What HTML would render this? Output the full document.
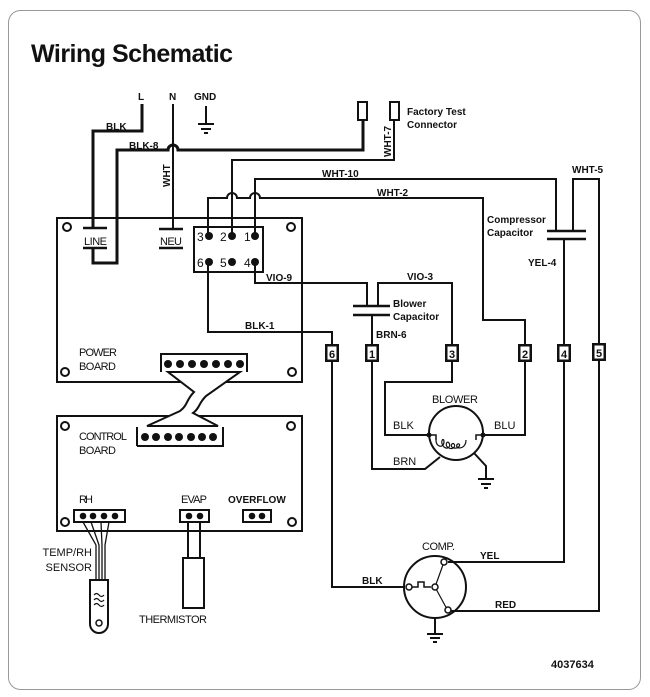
<!DOCTYPE html>
<html><head><meta charset="utf-8"><style>
html,body{margin:0;padding:0;background:#fff;}
svg{display:block;}
text{font-family:"Liberation Sans",sans-serif;fill:#111;}
.b{font-weight:bold;font-size:10px;}
.n{font-size:11px;}
</style></head><body>
<svg width="650" height="697" viewBox="0 0 650 697" xmlns="http://www.w3.org/2000/svg">
<rect x="8.5" y="10.5" width="632" height="679" rx="12" fill="#fff" stroke="#999" stroke-width="1"/>
<text x="31" y="62" style="font-size:25px;font-weight:bold;letter-spacing:-0.5px">Wiring Schematic</text>
<g fill="none" stroke="#111" stroke-width="2">
<rect x="57" y="218" width="245" height="164"/>
<circle cx="67" cy="227" r="4"/><circle cx="291" cy="227" r="4"/>
<circle cx="65" cy="372" r="4"/><circle cx="292" cy="372" r="4"/>
<rect x="57" y="416" width="245" height="115"/>
<circle cx="65" cy="426" r="4"/><circle cx="291" cy="426" r="4"/>
<circle cx="65" cy="522" r="4"/><circle cx="292" cy="522" r="4"/>
<path d="M161 372 V354 H247 V372"/>
<path d="M137 446 V427 M223 427 V446 H137"/>
<path d="M168 372 H240 L206 396 C198 404 200 408 193 413 L218 426 H147 L180 411 C188 405 186 400 194 392 Z" fill="#fff"/>
<rect x="74" y="510" width="51" height="12"/>
<rect x="180" y="510" width="29" height="12"/>
<rect x="243" y="510" width="28" height="12"/>
<path d="M83 522 L96 545 V580 M91 522 L99 545 V580 M101 522 L102 545 V580 M109 522 L105 545 V580" stroke-width="1.3"/>
<path d="M90 580 H108 V624 A9 9 0 0 1 90 624 Z" fill="#fff"/>
<circle cx="99" cy="623" r="3" stroke-width="1.5"/>
<path d="M94 595 q2.5 -3 5 0 t5 0 M94 600 q2.5 -3 5 0 t5 0 M94 605 q2.5 -3 5 0 t5 0" stroke-width="1.2"/>
<path d="M188 522 V558 M200 522 V558"/>
<rect x="183" y="558" width="21" height="50" fill="#fff"/>
<path d="M83 228 H107 M83 248 H107 M159 229 H183 M159 248 H183" stroke-width="2.5"/>
<path d="M142 104 V131 H93 V228 M93 248 V263 H117 V150 H168 A5 5 0 0 1 178 150 H363 V120" stroke-width="3"/>
<path d="M173 104 V229" />
<path d="M206 106 V124 M198 124 H214 M201 129 H211 M204 133 H208"/>
<rect x="358" y="102" width="9" height="18"/>
<rect x="390" y="102" width="9" height="18"/>
<path d="M394 120 V160 H232 V236"/>
<rect x="194" y="227" width="69" height="45"/>
<path d="M255 236 V179 H556 V231"/>
<path d="M208 236 V198 H227 A5 5 0 0 1 237 198 H250 A5 5 0 0 1 260 198 H483 V320 H525 V345"/>
<path d="M255 262 V283 H367 V306"/>
<path d="M378 306 V283 H452 V345"/>
<path d="M353 306 H390 M353 315 H390" stroke-width="2.5"/>
<path d="M372 315 V345"/>
<path d="M208 262 V332 H332 V345"/>
<path d="M547 231 H586 M547 239 H586" stroke-width="2.5"/>
<path d="M573 231 V179 H599 V345"/>
<path d="M564 239 V345"/>
<path d="M332 361 V587 H404"/>
<path d="M372 361 V469 H425 L440 457"/>
<path d="M452 361 V382 H385 V435 H429" />
<path d="M525 361 V435 H483"/>
<path d="M564 361 V562 H448"/>
<path d="M599 361 V611 H451"/>
<circle cx="456" cy="433" r="27"/>
<path d="M429 435 H436 V440 M483 435 H476 V440" stroke-width="1.5"/>
<path d="M436 440 c0 8 8 8 8 2 c0 -6 -5 0 0 5 c4 3 7 -1 5 -4 c-2 -3 -5 3 0 5 c4 2 7 -2 5 -4 c-2 -2 -5 3 0 4 c4 1 7 -3 5 -4 c-2 -1 -4 3 0 4 c4 0 7 -3 7 -8" stroke-width="1.2"/>
<path d="M474 453 L486 466 V478 M478 479 H494 M481 484 H491 M484 488 H488"/>
<circle cx="435" cy="587" r="31"/>
<path d="M409 587 H418 V582 H424 V587 H431" stroke-width="1.5"/>
<path d="M435 587 L444 562 M435 587 L448 611" stroke-width="1.2"/>
<path d="M435 619 V634 M427 634 H443 M430 638 H440 M433 642 H437"/>
</g>
<g fill="#fff" stroke="#111" stroke-width="1.5">
<circle cx="409" cy="587" r="3"/><circle cx="435" cy="587" r="3"/><circle cx="444" cy="562" r="3"/><circle cx="448" cy="610" r="3"/>
</g>
<g fill="#111">
<circle cx="429" cy="435" r="2.5"/><circle cx="483" cy="435" r="2.5"/>
<circle cx="209" cy="236" r="4"/><circle cx="232" cy="236" r="4"/><circle cx="255" cy="236" r="4"/>
<circle cx="209" cy="262" r="4"/><circle cx="232" cy="262" r="4"/><circle cx="255" cy="262" r="4"/>
<circle cx="168" cy="364" r="4"/><circle cx="180" cy="364" r="4"/><circle cx="192" cy="364" r="4"/><circle cx="204" cy="364" r="4"/><circle cx="216" cy="364" r="4"/><circle cx="228" cy="364" r="4"/><circle cx="240" cy="364" r="4"/>
<circle cx="145" cy="437" r="4"/><circle cx="156" cy="437" r="4"/><circle cx="168" cy="437" r="4"/><circle cx="179" cy="437" r="4"/><circle cx="191" cy="437" r="4"/><circle cx="202" cy="437" r="4"/><circle cx="213" cy="437" r="4"/>
<circle cx="83" cy="516" r="3.3"/><circle cx="93" cy="516" r="3.3"/><circle cx="104" cy="516" r="3.3"/><circle cx="115" cy="516" r="3.3"/>
<circle cx="189" cy="516" r="3.3"/><circle cx="200" cy="516" r="3.3"/>
<circle cx="252" cy="516" r="3.3"/><circle cx="262" cy="516" r="3.3"/>
<rect x="325" y="344" width="14" height="18"/><rect x="365" y="344" width="14" height="18"/><rect x="445" y="344" width="14" height="18"/><rect x="518" y="344" width="14" height="18"/><rect x="557" y="344" width="14" height="18"/><rect x="592" y="343" width="14" height="18"/>
</g>
<g fill="#fff">
<rect x="327.5" y="346.5" width="9" height="13"/><rect x="367.5" y="346.5" width="9" height="13"/><rect x="447.5" y="346.5" width="9" height="13"/><rect x="520.5" y="346.5" width="9" height="13"/><rect x="559.5" y="346.5" width="9" height="13"/><rect x="594.5" y="345.5" width="9" height="13"/>
</g>
<g>
<text x="329" y="358" class="b" style="font-size:11px">6</text>
<text x="369" y="358" class="b" style="font-size:11px">1</text>
<text x="449" y="358" class="b" style="font-size:11px">3</text>
<text x="522" y="358" class="b" style="font-size:11px">2</text>
<text x="561" y="358" class="b" style="font-size:11px">4</text>
<text x="596" y="357" class="b" style="font-size:11px">5</text>
</g>
<text x="197" y="241" style="font-size:12px">3</text>
<text x="220" y="241" style="font-size:12px">2</text>
<text x="244" y="241" style="font-size:12px">1</text>
<text x="197" y="267" style="font-size:12px">6</text>
<text x="220" y="267" style="font-size:12px">5</text>
<text x="244" y="267" style="font-size:12px">4</text>
<text x="138" y="100" class="b">L</text>
<text x="169" y="100" class="b">N</text>
<text x="194" y="100" class="b">GND</text>
<text x="106" y="130" class="b">BLK</text>
<text x="129" y="149" class="b">BLK-8</text>
<text class="b" transform="translate(170,187) rotate(-90)">WHT</text>
<text class="b" transform="translate(391,157) rotate(-90)">WHT-7</text>
<text x="407" y="115" class="b">Factory Test</text>
<text x="407" y="128" class="b">Connector</text>
<text x="322" y="177" class="b">WHT-10</text>
<text x="377" y="196" class="b">WHT-2</text>
<text x="572" y="173" class="b">WHT-5</text>
<text x="487" y="223" class="b">Compressor</text>
<text x="487" y="236" class="b">Capacitor</text>
<text x="528" y="266" class="b">YEL-4</text>
<text x="407" y="280" class="b">VIO-3</text>
<text x="266" y="281" class="b">VIO-9</text>
<text x="393" y="307" class="b">Blower</text>
<text x="393" y="320" class="b">Capacitor</text>
<text x="376" y="338" class="b">BRN-6</text>
<text x="245" y="329" class="b">BLK-1</text>
<text x="84" y="245" class="n" textLength="23">LINE</text>
<text x="160" y="245" class="n" textLength="22">NEU</text>
<text x="79" y="356" class="n" textLength="38">POWER</text>
<text x="79" y="370" class="n" textLength="37">BOARD</text>
<text x="79" y="440" class="n" textLength="48">CONTROL</text>
<text x="79" y="454" class="n" textLength="37">BOARD</text>
<text x="79" y="503" class="n" textLength="14">RH</text>
<text x="181" y="503" class="n" textLength="26">EVAP</text>
<text x="228" y="503" class="b">OVERFLOW</text>
<text x="92" y="556" class="n" text-anchor="end">TEMP/RH</text>
<text x="92" y="571" class="n" text-anchor="end">SENSOR</text>
<text x="139" y="623" class="n" textLength="68">THERMISTOR</text>
<text x="432" y="403" class="n" textLength="46">BLOWER</text>
<text x="393" y="429" class="n">BLK</text>
<text x="494" y="429" class="n">BLU</text>
<text x="393" y="465" class="n">BRN</text>
<text x="422" y="550" class="n" textLength="33">COMP.</text>
<text x="480" y="559" class="b">YEL</text>
<text x="362" y="584" class="b">BLK</text>
<text x="495" y="608" class="b">RED</text>
<text x="551" y="668" class="b" style="font-size:11px">4037634</text>
</svg>
</body></html>
